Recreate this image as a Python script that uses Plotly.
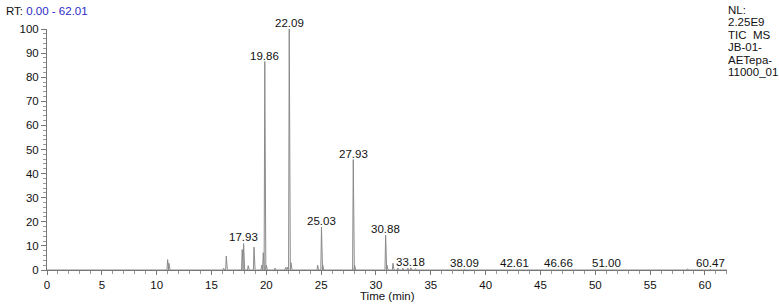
import plotly.graph_objects as go

# Peak retention times (min) and relative abundances (%)
peak_rt = [11.00, 11.12, 16.10, 16.35, 17.80, 17.93, 18.35, 18.88, 19.58, 19.72,
           19.86, 20.00, 20.80, 21.75, 21.90, 22.09, 22.25, 24.68, 25.03, 25.15,
           27.93, 28.05, 30.88, 31.00, 31.55, 32.00, 32.45, 32.90, 33.18, 33.60,
           38.09, 42.61, 46.66, 51.00, 58.40, 60.47]
peak_h = [4.3, 2.8, 0.8, 5.8, 8.5, 11.0, 1.8, 9.5, 2.0, 7.2,
          86.5, 2.0, 0.8, 1.0, 1.2, 100.0, 3.0, 2.0, 17.8, 2.0,
          45.8, 2.0, 14.5, 2.0, 2.8, 0.8, 0.7, 0.8, 0.9, 0.6,
          0.3, 0.3, 0.3, 0.3, 0.5, 0.3]

# Labelled peaks
label_rt = ["17.93", "19.86", "22.09", "25.03", "27.93", "30.88", "33.18",
            "38.09", "42.61", "46.66", "51.00", "60.47"]
label_h = [11.0, 86.5, 100.0, 17.8, 45.8, 14.5, 0.9, 0.3, 0.3, 0.3, 0.3, 0.3]

x_start, x_end = 0.0, 62.01
info_lines = ["NL:", "2.25E9", "TIC  MS", "JB-01-", "AETepa-", "11000_01"]

# build the trace path: baseline between narrow peaks
xs, ys = [x_start], [0.0]
hw = 0.06
for rt, h in sorted(zip(peak_rt, peak_h)):
    xs += [rt - hw, rt, rt + hw * 1.6]
    ys += [0.0, h, 0.0]
xs.append(x_end)
ys.append(0.0)

FONT = "Liberation Sans, Arial, sans-serif"
fig = go.Figure()
fig.add_trace(go.Scatter(x=xs, y=ys, mode="lines",
                         line=dict(color="#8a8a8a", width=1), hoverinfo="skip"))

ann = []
for t, h in zip(label_rt, label_h):
    ann.append(dict(x=float(t), y=h, xref="x", yref="y", text=t, showarrow=False,
                    xanchor="center", yanchor="bottom", yshift=-2,
                    font=dict(family=FONT, size=11.5, color="#111")))

ann.append(dict(x=-0.063, y=1.075, xref="paper", yref="paper",
                text="RT: <span style='color:#2a2ac8'>0.00 - 62.01</span>",
                showarrow=False, xanchor="left", yanchor="middle",
                font=dict(family=FONT, size=11.5, color="#111")))
for i, line in enumerate(info_lines):
    ann.append(dict(x=0.999, y=(270 - 10 - 12.4 * i) / 241.0, xref="paper", yref="paper",
                    text=line, showarrow=False, xanchor="left", yanchor="middle",
                    font=dict(family=FONT, size=11.5, color="#111")))
ann.append(dict(x=0.5, y=(270 - 296) / 241.0, xref="paper", yref="paper",
                text="Time (min)", showarrow=False, xanchor="center", yanchor="middle",
                font=dict(family=FONT, size=11.5, color="#111")))

fig.update_layout(
    width=779, height=306,
    margin=dict(l=47, r=52, t=29, b=36),
    plot_bgcolor="white", paper_bgcolor="white",
    showlegend=False,
    annotations=ann,
    xaxis=dict(range=[x_start, x_end], dtick=5, tick0=0, showgrid=False, zeroline=False,
               showline=True, linecolor="#777", linewidth=1,
               ticks="outside", ticklen=4, tickcolor="#777",
               minor=dict(dtick=1, tick0=0, ticks="outside", ticklen=3, tickcolor="#999"),
               tickfont=dict(family=FONT, size=11.5, color="#111")),
    yaxis=dict(range=[0, 100], dtick=10, tick0=0, showgrid=False, zeroline=False,
               showline=True, linecolor="#777", linewidth=1,
               ticks="outside", ticklen=5, tickcolor="#777",
               minor=dict(dtick=2, tick0=0, ticks="outside", ticklen=3, tickcolor="#999"),
               tickfont=dict(family=FONT, size=11.5, color="#111")),
)
fig.write_html("out.html")
